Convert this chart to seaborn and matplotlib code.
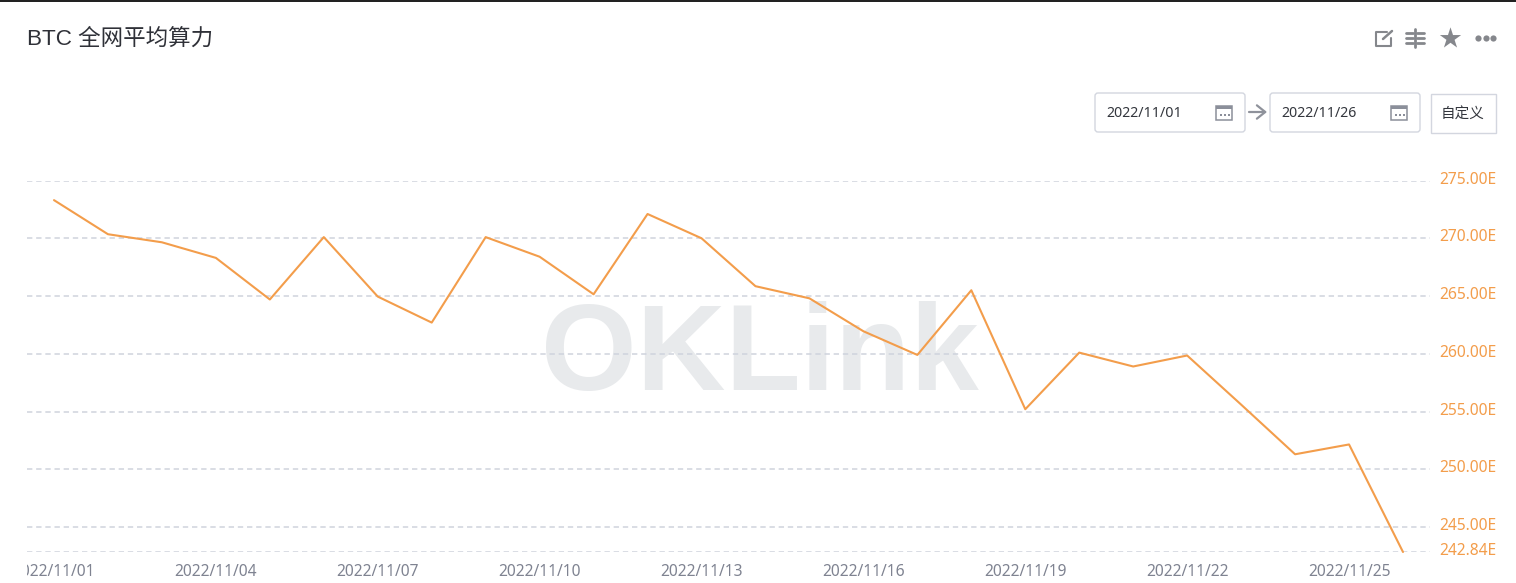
#! usr/bin/env python

import matplotlib
matplotlib.use('Agg')
import matplotlib.pyplot as plt
import matplotlib.dates as mdates
from matplotlib.patches import FancyBboxPatch, Rectangle
from matplotlib.transforms import ScaledTranslation
import pandas as pd
import seaborn as sns

title_text = 'BTC 全网平均算力'
watermark = 'OKLink'
start_label = '2022/11/01'
end_label = '2022/11/26'
custom_label = '自定义'

dates = pd.date_range('2022-11-01', '2022-11-26', freq='D')
hashrate = [273.3, 270.35, 269.65, 268.3, 264.7, 270.1, 264.95, 262.7, 270.1,
            268.4, 265.15, 272.1, 270.0, 265.85, 264.8, 261.95, 259.9, 265.5,
            255.2, 260.1, 258.9, 259.85, 255.6, 251.3, 252.15, 242.84]
y_ticks = [242.84, 245, 250, 255, 260, 265, 270, 275]
x_tick_dates = pd.date_range('2022-11-01', '2022-11-25', freq='3D')

W, H = 1516, 583
LINE = '#f39d4b'
GRID = '#cfd3dd'
GREY = '#7f8391'
ICON = '#85878c'

sns.set_theme(style='white')
plt.rcParams['font.family'] = ['Liberation Sans', 'Noto Sans CJK SC', 'DejaVu Sans']

df = pd.DataFrame({'date': dates, 'hashrate': hashrate})

fig = plt.figure(figsize=(W / 100, H / 100), dpi=100, facecolor='white')

# main chart, position given in reference pixels
ax = fig.add_axes([27 / W, 1 - 552 / H, (1430 - 27) / W, (552 - 180.5) / H])
ax.set_facecolor('none')
sns.lineplot(data=df, x='date', y='hashrate', ax=ax, color=LINE, linewidth=1.5,
             clip_on=False, zorder=3)

day = (1403 - 54) / 25
x0 = mdates.date2num(dates[0])
ax.set_xlim(x0 - (54 - 27) / day, x0 + (1430 - 54) / day)
ax.set_ylim(242.84, 275)
ax.set_xlabel('')
ax.set_ylabel('')
sns.despine(ax=ax, left=True, bottom=True, right=True, top=True)

ax.yaxis.tick_right()
ax.set_yticks(y_ticks)
ax.set_yticklabels([f'{v:.2f}E' for v in y_ticks], color=LINE, fontsize=11.2,
                   family=['Noto Sans', 'DejaVu Sans'])
ax.tick_params(axis='y', length=0, pad=6.5)
# labels sit a little above their gridlines in the reference
nudge = ScaledTranslation(0, 3 / 100, fig.dpi_scale_trans)
for lab in ax.get_yticklabels():
    lab.set_transform(lab.get_transform() + nudge)
ax.set_xticks(x_tick_dates)
ax.set_xticklabels([d.strftime('%Y/%m/%d') for d in x_tick_dates], color=GREY,
                   fontsize=11.2, family=['Noto Sans', 'DejaVu Sans'])
ax.tick_params(axis='x', length=0, pad=9)
ax.yaxis.grid(True, color=GRID, linestyle=(0, (3.5, 2.5)), linewidth=1.1)
ax.xaxis.grid(False)

# page furniture, drawn in pixel coordinates
ui = fig.add_axes([0, 0, 1, 1], zorder=5)
ui.set_xlim(0, W)
ui.set_ylim(H, 0)
ui.axis('off')
ui.patch.set_alpha(0)

under = fig.add_axes([0, 0, 1, 1], zorder=-1)
under.set_xlim(0, W)
under.set_ylim(H, 0)
under.axis('off')
under.text(760, 358, watermark, fontsize=88.7, fontweight='bold', color='#e8eaec',
           ha='center', va='center', family='Liberation Sans')

# top border and the clipped left edge of the first date label
ui.add_patch(Rectangle((0, 0), W, 1.5, color='#222222', lw=0))
ui.add_patch(Rectangle((0, 556), 27, 27, color='white', lw=0))

ui.text(27, 39.5, title_text, fontsize=16.2, color='#2f3138', va='center')


def date_box(x, w, label):
    ui.add_patch(FancyBboxPatch((x + 3, 96), w - 6, 33, boxstyle='round,pad=3',
                                fc='white', ec='#d3d6df', lw=1))
    ui.text(x + 11, 113.5, label, fontsize=10.2, color='#33363d', va='center',
            family=['Noto Sans', 'DejaVu Sans'])
    # calendar icon
    cx = x + 121
    ui.add_patch(Rectangle((cx, 106), 16, 14, fc='none', ec='#8b8f9a', lw=1.1))
    ui.add_patch(Rectangle((cx, 106), 16, 3, fc='#8b8f9a', lw=0))
    for dx in (4, 8, 12):
        ui.add_patch(Rectangle((cx + dx, 114), 2, 2, fc='#8b8f9a', lw=0))


date_box(1095, 150, start_label)
date_box(1270, 150, end_label)
ui.annotate('', xy=(1267, 112), xytext=(1249, 112),
            arrowprops=dict(arrowstyle='->,head_length=0.5,head_width=0.4',
                            color='#8f929b', lw=1.6, shrinkA=0, shrinkB=0))
ui.add_patch(Rectangle((1430.5, 93.5), 65, 39, fc='white', ec='#d3d6df', lw=1))
ui.text(1463, 114.5, custom_label, fontsize=10.5, color='#33363d', ha='center', va='center')

# toolbar icons
ui.plot([1387, 1376, 1376, 1391, 1391], [32, 32, 46, 46, 38], color=ICON, lw=1.5)
ui.plot([1383, 1392], [39, 31], color=ICON, lw=1.8)
ui.plot([1415, 1415], [29, 47], color=ICON, lw=2)
for yy in (33, 38, 43):
    ui.plot([1406, 1413], [yy, yy], color=ICON, lw=2)
    ui.plot([1417, 1424], [yy, yy], color=ICON, lw=2)
ui.scatter([1450], [37.5], marker='*', s=260, color=ICON, lw=0)
ui.scatter([1478, 1485.5, 1493], [38, 38, 38], s=20, color=ICON, lw=0)

fig.savefig('out.png', dpi=100, facecolor='white')
